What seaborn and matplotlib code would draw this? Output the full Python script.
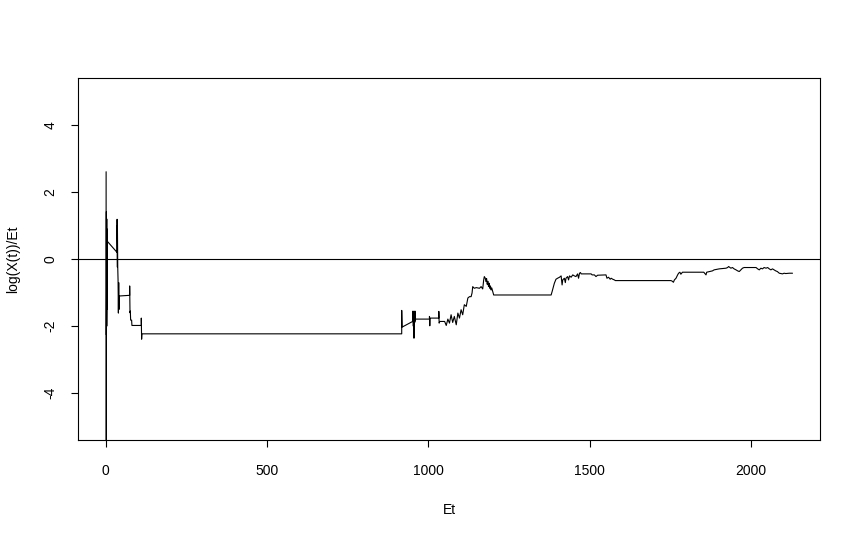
import matplotlib
matplotlib.use("Agg")
import matplotlib.pyplot as plt
import seaborn as sns
import pandas as pd

# Et values (x) and log(X(t))/Et values (y)
et = [1, 1, 2, 2, 3, 3, 4, 4, 5,
      35, 35, 36, 36, 37, 38, 39, 40, 41, 42,
      74, 74, 75, 76, 77, 80, 81, 110, 110, 111, 112,
      917, 917, 918, 951, 952, 953, 954, 955, 956, 957, 958, 959, 960,
      1003, 1003, 1004, 1005, 1032, 1032, 1033, 1035, 1050,
      1055, 1060, 1065, 1070, 1075, 1080, 1086, 1091, 1096, 1101, 1106,
      1111, 1117, 1122, 1127, 1132, 1135, 1137, 1142, 1148, 1158, 1163,
      1168, 1171, 1173, 1176, 1178, 1180, 1182, 1184, 1186, 1188, 1190,
      1192, 1194, 1196, 1199, 1202,
      1380, 1383, 1387, 1390, 1395, 1400, 1406, 1411, 1414, 1416, 1421,
      1424, 1426, 1431, 1434, 1437, 1442, 1447, 1452, 1457, 1462, 1465,
      1468, 1471, 1473, 1504, 1507, 1514, 1519, 1524, 1550, 1553, 1558,
      1563, 1566, 1571, 1576, 1579,
      1751, 1754, 1759, 1762, 1767, 1772, 1775, 1779, 1782, 1787,
      1853, 1860, 1862, 1880, 1885, 1901, 1922, 1927, 1930, 1934, 1937,
      1942, 1947, 1953, 1958, 1963, 1968, 1973, 1978, 2015, 2020, 2025,
      2030, 2035, 2040, 2046, 2051, 2056, 2061, 2066, 2071, 2076, 2081,
      2087, 2097, 2102, 2107, 2118, 2128]

log_ratio = [2.61, -60.0, 1.42, -2.26, 1.20, -2.00, 0.90, -1.50, 0.53,
             0.20, 1.19, -0.24, 1.00, -0.24, -0.62, -1.61, -0.70, -1.50, -1.10,
             -1.08, -0.80, -1.60, -1.55, -1.82, -1.82, -1.98, -1.98, -1.76, -2.39, -2.23,
             -2.23, -1.53, -2.03, -1.86, -1.55, -2.00, -1.60, -2.36, -1.70, -1.90, -1.55, -1.85, -1.79,
             -1.79, -1.71, -1.99, -1.76, -1.76, -1.56, -1.91, -1.86, -1.86,
             -1.98, -1.79, -1.91, -1.66, -1.89, -1.71, -1.96, -1.61, -1.76, -1.51, -1.66,
             -1.36, -1.41, -1.16, -1.12, -1.12, -1.01, -0.82, -0.87, -0.85, -0.87, -0.82,
             -0.89, -0.62, -0.52, -0.57, -0.67, -0.58, -0.75, -0.66, -0.82, -0.72, -0.87,
             -0.80, -0.92, -0.86, -0.97, -1.07,
             -1.07, -0.97, -0.82, -0.72, -0.60, -0.57, -0.54, -0.50, -0.77, -0.62, -0.57,
             -0.70, -0.57, -0.52, -0.62, -0.50, -0.54, -0.47, -0.50, -0.52, -0.44, -0.57,
             -0.42, -0.40, -0.44, -0.44, -0.47, -0.47, -0.52, -0.48, -0.47, -0.57, -0.54,
             -0.60, -0.57, -0.60, -0.62, -0.64,
             -0.64, -0.65, -0.69, -0.62, -0.57, -0.47, -0.42, -0.39, -0.45, -0.39,
             -0.39, -0.47, -0.39, -0.35, -0.32, -0.29, -0.27, -0.25, -0.22, -0.25, -0.27,
             -0.25, -0.29, -0.32, -0.35, -0.37, -0.32, -0.27, -0.25, -0.25, -0.29, -0.32,
             -0.27, -0.29, -0.25, -0.27, -0.25, -0.29, -0.32, -0.29, -0.32, -0.35, -0.37,
             -0.42, -0.44, -0.42, -0.43, -0.42, -0.42]

x_ticks = [0, 500, 1000, 1500, 2000]
y_ticks = [-4, -2, 0, 2, 4]

sns.set_style("white")
plt.rcParams["font.family"] = ["Liberation Sans", "DejaVu Sans"]

df = pd.DataFrame({"Et": et, "log(X(t))/Et": log_ratio})

fig = plt.figure(figsize=(8.61, 5.38), dpi=100)
ax = fig.add_axes([78.3 / 861, 1 - 440 / 538, (820 - 78.3) / 861, (440 - 78.3) / 538])

sns.lineplot(data=df, x="Et", y="log(X(t))/Et", sort=False, estimator=None,
             color="black", linewidth=0.8, ax=ax)
ax.axhline(0, color="black", linewidth=0.8)

ax.set_xlim(-85.2, 2213.2)
ax.set_ylim(-5.4, 5.4)
ax.set_xticks(x_ticks)
ax.set_yticks(y_ticks)
ax.set_xticklabels([str(v) for v in x_ticks])
ax.set_yticklabels([str(v) for v in y_ticks], rotation=90, va="center")

for s in ax.spines.values():
    s.set_visible(True)
    s.set_color("black")
    s.set_linewidth(0.8)

ax.tick_params(axis="both", which="major", direction="out", length=5.2, width=0.8,
               color="black", labelsize=10, labelcolor="black", bottom=True, left=True)
ax.tick_params(axis="x", pad=12)
ax.tick_params(axis="y", pad=10)

ax.set_xlabel("Et", fontsize=10, color="black")
ax.set_ylabel("log(X(t))/Et", fontsize=10, color="black")
ax.xaxis.set_label_coords(0.5, -0.175)
ax.yaxis.set_label_coords(-0.078, 0.5)
ax.grid(False)

fig.savefig("out.png", dpi=100, facecolor="white")
